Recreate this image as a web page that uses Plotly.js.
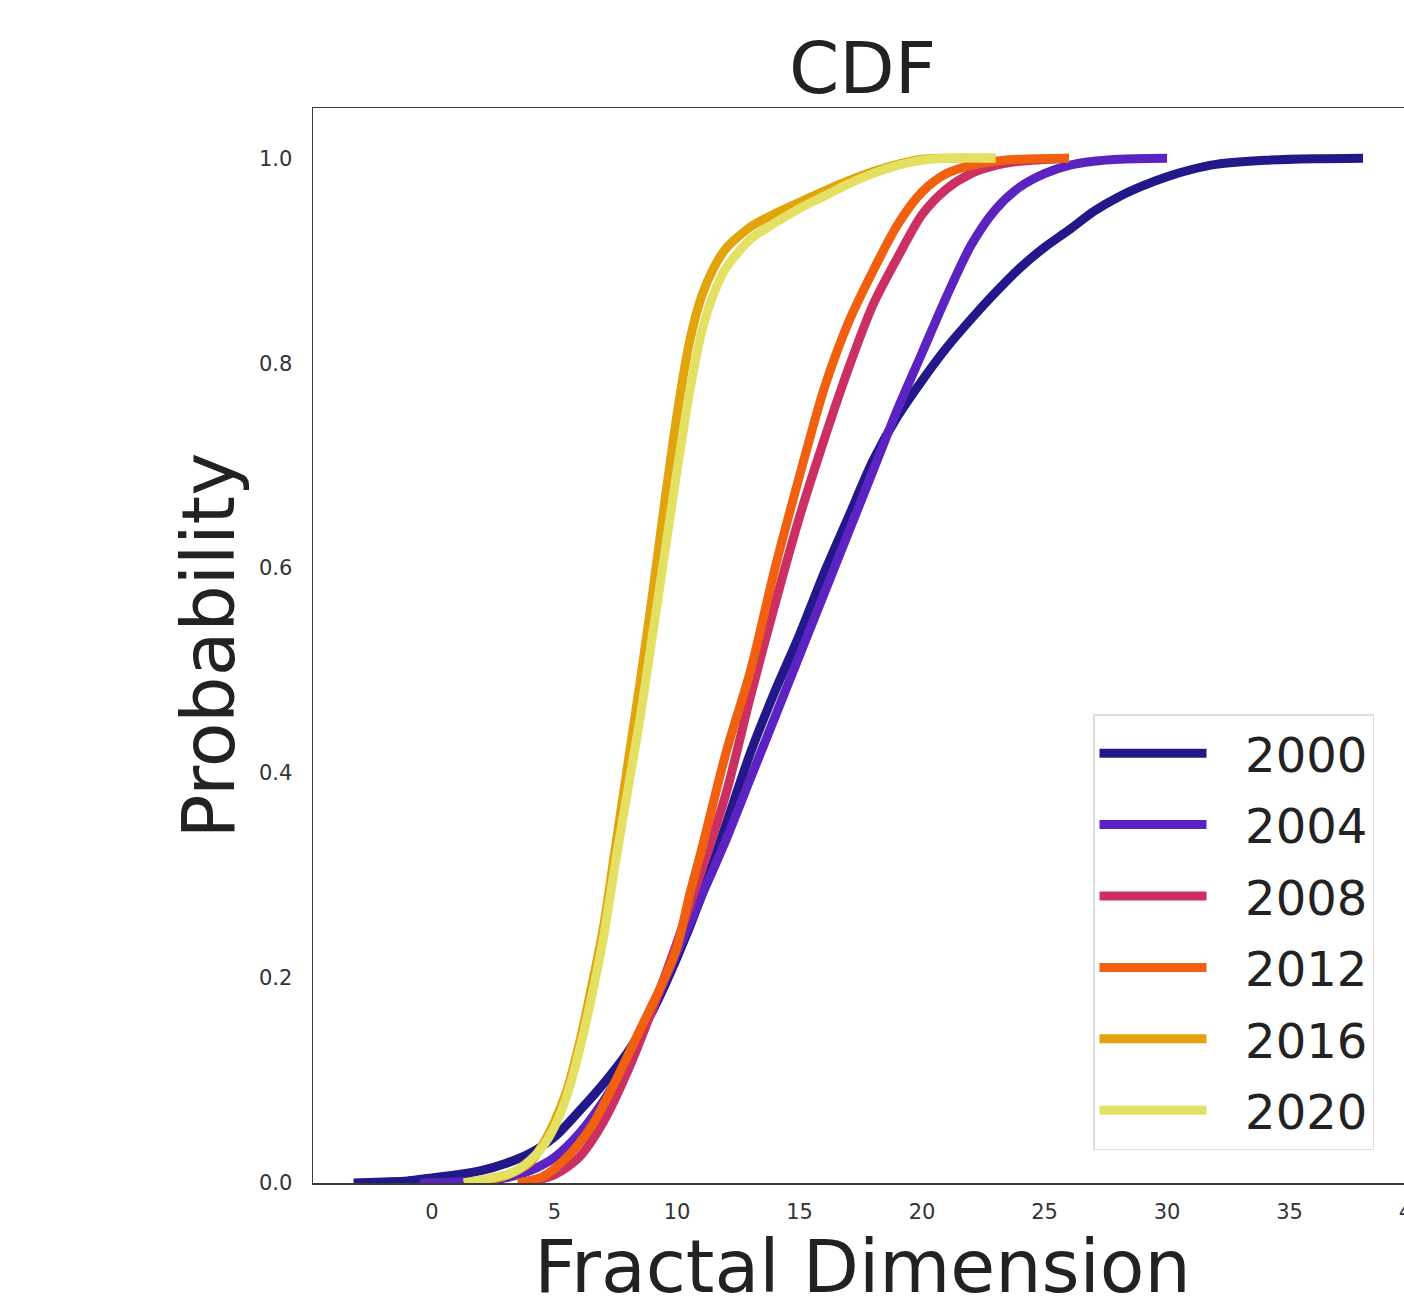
<!DOCTYPE html>
<html>
<head>
<meta charset="utf-8">
<script src="https://cdn.plot.ly/plotly-3.0.1.min.js"></script>
<style>
  html, body { margin: 0; padding: 0; overflow: hidden; background: #ffffff; }
  #chart { width: 1440px; height: 1330px; }
</style>
</head>
<body>
<div id="chart"></div>
<script>
// ---- Data ----
const years = ["2000", "2004", "2008", "2012", "2016", "2020"];
const colors = ["#22188a", "#5b23c2", "#cc2f62", "#f0600f", "#e1a40c", "#e4e162"];

const x2000 = [-3.2, -2, -1, 0, 1, 2, 3, 4, 5, 6, 7, 8, 9, 10, 11, 12, 13, 14, 15, 16, 17, 18, 19, 20, 21, 22, 23, 24, 25, 26, 27, 28, 29, 30, 31, 32, 34, 36, 38];
const p2000 = [0, 0.001, 0.002, 0.005, 0.008, 0.012, 0.019, 0.029, 0.045, 0.07, 0.097, 0.128, 0.168, 0.22, 0.28, 0.35, 0.42, 0.48, 0.535, 0.595, 0.65, 0.705, 0.748, 0.783, 0.815, 0.843, 0.869, 0.893, 0.913, 0.93, 0.948, 0.962, 0.973, 0.982, 0.989, 0.994, 0.998, 0.9995, 1.0];

const x2004 = [-0.5, 1, 2, 3, 4, 5, 6, 7, 8, 9, 10, 11, 12, 13, 14, 15, 16, 17, 18, 19, 20, 21, 22, 23, 24, 25, 26, 27, 28, 30];
const p2004 = [0, 0.001, 0.002, 0.005, 0.012, 0.025, 0.048, 0.08, 0.12, 0.17, 0.225, 0.28, 0.335, 0.395, 0.455, 0.515, 0.575, 0.635, 0.695, 0.755, 0.81, 0.865, 0.915, 0.95, 0.972, 0.985, 0.993, 0.997, 0.999, 1.0];

const x2008 = [3.8, 5, 6, 7, 8, 9, 10, 11, 12, 13, 14, 15, 16, 17, 18, 19, 20, 21, 22, 23, 24, 26];
const p2008 = [0, 0.008, 0.025, 0.06, 0.11, 0.17, 0.235, 0.305, 0.38, 0.475, 0.565, 0.65, 0.725, 0.795, 0.857, 0.903, 0.945, 0.97, 0.985, 0.993, 0.997, 1.0];

const x2012 = [3.5, 4.5, 5.5, 6.5, 7.5, 8.5, 9.5, 10, 10.5, 11, 12, 13, 14, 15, 16, 17, 18, 19, 20, 21, 22, 23, 24, 26];
const p2012 = [0, 0.006, 0.025, 0.055, 0.1, 0.15, 0.2, 0.23, 0.28, 0.325, 0.42, 0.5, 0.6, 0.69, 0.775, 0.84, 0.89, 0.935, 0.967, 0.985, 0.993, 0.997, 0.999, 1.0];

const x2016 = [1.3, 2, 3, 4, 4.5, 5, 5.5, 6, 6.5, 7, 7.5, 8, 8.5, 9, 9.5, 10, 10.5, 11, 11.5, 12, 13, 14, 15, 16, 17, 18, 19, 20, 21, 23];
const p2016 = [0, 0.002, 0.007, 0.02, 0.037, 0.06, 0.09, 0.135, 0.19, 0.25, 0.33, 0.41, 0.49, 0.575, 0.665, 0.75, 0.82, 0.865, 0.893, 0.912, 0.933, 0.946, 0.957, 0.968, 0.978, 0.987, 0.994, 0.999, 1.0, 1.0];

const x2020 = [1.3, 2, 3, 3.5, 4, 4.5, 5, 5.5, 6, 6.5, 7, 7.5, 8, 8.5, 9, 9.5, 10, 10.5, 11, 11.5, 12, 13, 14, 15, 16, 17, 18, 19, 20, 21, 23];
const p2020 = [0, 0.003, 0.008, 0.013, 0.022, 0.035, 0.055, 0.085, 0.128, 0.18, 0.24, 0.315, 0.385, 0.455, 0.535, 0.615, 0.695, 0.77, 0.83, 0.868, 0.893, 0.921, 0.937, 0.951, 0.963, 0.975, 0.985, 0.993, 0.998, 1.0, 1.0];

const xTickVals = [0, 5, 10, 15, 20, 25, 30, 35, 40];
const yTickVals = [0.0, 0.2, 0.4, 0.6, 0.8, 1.0];
const yTickText = ["0.0", "0.2", "0.4", "0.6", "0.8", "1.0"];

const chartTitle = "CDF";
const xTitle = "Fractal Dimension";
const yTitle = "Probability";

// ---- Traces ----
const xs = [x2000, x2004, x2008, x2012, x2016, x2020];
const ps = [p2000, p2004, p2008, p2012, p2016, p2020];
const legendPad = "\u2002\u2009";  // visual gap between legend line and label

const traces = years.map((yr, i) => ({
  type: "scatter",
  mode: "lines",
  name: legendPad + yr,
  legendgroup: "g" + yr,
  x: xs[i],
  y: ps[i],
  line: { color: colors[i], width: 9, shape: "spline", smoothing: 0.8 },
  hoverinfo: "skip"
}));

const tickFont = { family: "DejaVu Sans, sans-serif", size: 21, color: "#333333" };
const H = 1330; // canvas slightly taller than the 1299px window; the window crops it

const layout = {
  width: 1440,
  height: H,
  margin: { l: 313, r: 28, t: 108, b: H - 1183, pad: 0 },
  paper_bgcolor: "#ffffff",
  plot_bgcolor: "#ffffff",
  showlegend: true,
  title: {
    text: chartTitle,
    font: { family: "DejaVu Sans, sans-serif", size: 72, color: "#222222" },
    x: 0.5, xref: "paper",
    y: 1 - 68 / H, yref: "container", yanchor: "middle"
  },
  xaxis: {
    range: [-4.86, 40.0],
    tickvals: xTickVals,
    ticks: "",
    ticklabelstandoff: 9,
    tickfont: tickFont,
    showgrid: false,
    zeroline: false,
    showline: true,
    linecolor: "#3a3a3a",
    linewidth: 1.5,
    mirror: true,
    title: {
      text: xTitle,
      font: { family: "DejaVu Sans, sans-serif", size: 73, color: "#222222" },
      standoff: 2
    }
  },
  yaxis: {
    range: [0, 1.049],
    tickvals: yTickVals,
    ticktext: yTickText,
    ticks: "",
    ticklabelstandoff: 15,
    tickfont: tickFont,
    showgrid: false,
    zeroline: false,
    showline: true,
    linecolor: "#3a3a3a",
    linewidth: 1.5,
    mirror: true,
    title: {
      text: yTitle,
      font: { family: "DejaVu Sans, sans-serif", size: 73, color: "#222222" },
      standoff: 0
    }
  },
  legend: {
    x: (1093 - 313) / 1099,
    y: (1183 - 714) / 1075,
    xanchor: "left",
    yanchor: "top",
    bgcolor: "rgba(255,255,255,0.85)",
    bordercolor: "#dddddd",
    borderwidth: 1.5,
    font: { family: "DejaVu Sans, sans-serif", size: 48, color: "#222222" },
    traceorder: "grouped",
    tracegroupgap: 6,
    itemwidth: 107
  }
};

Plotly.newPlot("chart", traces, layout, { displayModeBar: false, staticPlot: true });
</script>
</body>
</html>
